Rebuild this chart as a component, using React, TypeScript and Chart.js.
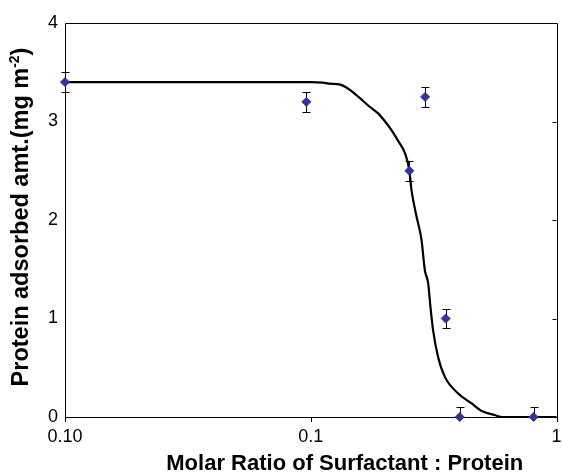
import React, { useEffect, useRef } from "react";
import { Chart, registerables } from "chart.js";

Chart.register(...registerables);

// Axis ticks
const xTickValues = [0.01, 0.1, 1];
const xTickLabels = ["0.10", "0.1", "1"];
const yTickValues = [0, 1, 2, 3, 4];

// Axis titles
const xTitle = "Molar Ratio of Surfactant : Protein";
const yTitleMain = "Protein adsorbed amt.(mg m";
const yTitleSup = "-2";
const yTitleEnd = ")";

// Measured points (molar ratio, adsorbed amount, error)
const ratioPoints = [0.01, 0.096, 0.252, 0.292, 0.354, 0.404, 0.807];
const adsorbedPoints = [3.4, 3.2, 2.5, 3.25, 1.0, 0, 0];
const errorPoints = [0.1, 0.1, 0.1, 0.1, 0.1, 0.1, 0.1];

// Model curve
const curveRatio = [
  0.01, 0.1009, 0.112, 0.1183, 0.1319, 0.1425, 0.1564, 0.1717, 0.1885, 0.2006, 0.2134,
  0.2272, 0.2417, 0.2517, 0.2571, 0.2686, 0.2822, 0.2913, 0.3004, 0.3069, 0.3147,
  0.3297, 0.351, 0.3974, 0.4498, 0.4937, 0.5595, 0.6045, 1,
];
const curveAdsorbed = [
  3.4, 3.4, 3.395, 3.385, 3.375, 3.33, 3.25, 3.16, 3.08, 3.0, 2.91,
  2.8, 2.68, 2.51, 2.3, 2.05, 1.8, 1.49, 1.36, 1.12, 0.88,
  0.61, 0.41, 0.24, 0.14, 0.064, 0.02, 0, 0,
];

const FONT = "'Liberation Sans', Arial, Helvetica, sans-serif";

const framePlugin = {
  id: "frameAndErrors",
  beforeDatasetsDraw(chart: any) {
    const { ctx, chartArea, scales } = chart;
    const { left, right, top, bottom } = chartArea;
    ctx.save();
    ctx.strokeStyle = "#000";
    ctx.lineWidth = 1;
    ctx.beginPath();
    ctx.rect(Math.round(left) + 0.5, Math.round(top) + 0.5, Math.round(right - left), Math.round(bottom - top));
    ctx.stroke();
    // bottom ticks outward
    ctx.beginPath();
    xTickValues.forEach((v) => {
      const px = Math.round(scales.x.getPixelForValue(v)) + 0.5;
      ctx.moveTo(px, bottom);
      ctx.lineTo(px, bottom + 5);
    });
    // right ticks inward
    yTickValues.forEach((v) => {
      const py = Math.round(scales.y.getPixelForValue(v)) + 0.5;
      ctx.moveTo(right, py);
      ctx.lineTo(right - 4, py);
    });
    ctx.stroke();
    // error bars
    ctx.beginPath();
    ratioPoints.forEach((r, i) => {
      const px = Math.round(scales.x.getPixelForValue(r)) + 0.5;
      const hi = adsorbedPoints[i] + errorPoints[i];
      const loVal = adsorbedPoints[i] - errorPoints[i];
      const lo = Math.max(loVal, 0);
      const pyHi = Math.round(scales.y.getPixelForValue(hi)) + 0.5;
      const pyLo = Math.round(scales.y.getPixelForValue(lo)) + 0.5;
      ctx.moveTo(px, pyHi);
      ctx.lineTo(px, pyLo);
      ctx.moveTo(px - 4, pyHi);
      ctx.lineTo(px + 4, pyHi);
      if (loVal >= 0) {
        ctx.moveTo(px - 4, pyLo);
        ctx.lineTo(px + 4, pyLo);
      }
    });
    ctx.stroke();
    ctx.restore();
  },
  afterDraw(chart: any) {
    const { ctx, chartArea } = chart;
    ctx.save();
    ctx.fillStyle = "#000";
    // x title
    ctx.font = `bold 22px ${FONT}`;
    ctx.textAlign = "center";
    ctx.textBaseline = "alphabetic";
    const cx = (chartArea.left + chartArea.right) / 2 + 34;
    ctx.fillText(xTitle, cx, chartArea.bottom + 53);
    // y title, rotated
    const mainFont = `bold 23.5px ${FONT}`;
    const supFont = `bold 14px ${FONT}`;
    ctx.font = mainFont;
    const wMain = ctx.measureText(yTitleMain).width;
    const wEnd = ctx.measureText(yTitleEnd).width;
    ctx.font = supFont;
    const wSup = ctx.measureText(yTitleSup).width;
    const total = wMain + wSup + wEnd;
    const cy = (chartArea.top + chartArea.bottom) / 2 - 3;
    ctx.translate(28, cy + total / 2);
    ctx.rotate(-Math.PI / 2);
    ctx.textAlign = "left";
    ctx.font = mainFont;
    ctx.fillText(yTitleMain, 0, 0);
    ctx.font = supFont;
    ctx.fillText(yTitleSup, wMain, -9);
    ctx.font = mainFont;
    ctx.fillText(yTitleEnd, wMain + wSup, 0);
    ctx.restore();
  },
};

export default function App() {
  const canvasRef = useRef<HTMLCanvasElement | null>(null);

  useEffect(() => {
    const canvas = canvasRef.current;
    if (!canvas) return;
    const chart = new Chart(canvas, {
      type: "scatter",
      data: {
        datasets: [
          {
            label: "Model",
            data: curveRatio.map((x, i) => ({ x, y: curveAdsorbed[i] })),
            showLine: true,
            borderColor: "#000000",
            borderWidth: 2.2,
            pointRadius: 0,
            tension: 0.3,
            cubicInterpolationMode: "monotone",
            clip: false as any,
            order: 2,
          },
          {
            label: "Measured",
            data: ratioPoints.map((x, i) => ({ x, y: adsorbedPoints[i] })),
            showLine: false,
            pointStyle: "rectRot",
            pointRadius: 4.5,
            backgroundColor: "#33339a",
            borderColor: "#33339a",
            borderWidth: 1,
            clip: false as any,
            order: 1,
          },
        ],
      },
      options: {
        animation: false,
        responsive: false,
        maintainAspectRatio: false,
        layout: { padding: { top: 23, right: 3, left: 0, bottom: 0 } },
        plugins: {
          legend: { display: false },
          tooltip: { enabled: false },
          title: { display: false },
        },
        scales: {
          x: {
            type: "logarithmic",
            min: 0.01,
            max: 1,
            afterBuildTicks: (scale: any) => {
              scale.ticks = xTickValues.map((v) => ({ value: v }));
            },
            afterFit: (scale: any) => {
              scale.height = 57;
              scale.paddingLeft = 0;
              scale.paddingRight = 0;
            },
            grid: { display: false, drawTicks: false },
            border: { display: false },
            ticks: {
              autoSkip: false,
              maxRotation: 0,
              padding: 9,
              color: "#000",
              font: { family: FONT, size: 18 },
              callback: (value: any) => {
                const idx = xTickValues.findIndex((v) => Math.abs(v - Number(value)) < 1e-9);
                return idx >= 0 ? xTickLabels[idx] : "";
              },
            },
            title: { display: false },
          },
          y: {
            type: "linear",
            min: 0,
            max: 4,
            afterBuildTicks: (scale: any) => {
              scale.ticks = yTickValues.map((v) => ({ value: v }));
            },
            afterFit: (scale: any) => {
              scale.width = 65;
              scale.paddingTop = 0;
              scale.paddingBottom = 0;
            },
            grid: { display: false, drawTicks: false },
            border: { display: false },
            ticks: {
              padding: 7,
              color: "#000",
              font: { family: FONT, size: 18 },
              callback: (value: any) => String(value),
            },
            title: { display: false },
          },
        },
      },
      plugins: [framePlugin],
    });
    return () => chart.destroy();
  }, []);

  return (
    <div style={{ position: "fixed", left: 0, top: 0, width: 562, height: 474, background: "#fff" }}>
      <canvas ref={canvasRef} width={562} height={474} style={{ display: "block" }} />
    </div>
  );
}
